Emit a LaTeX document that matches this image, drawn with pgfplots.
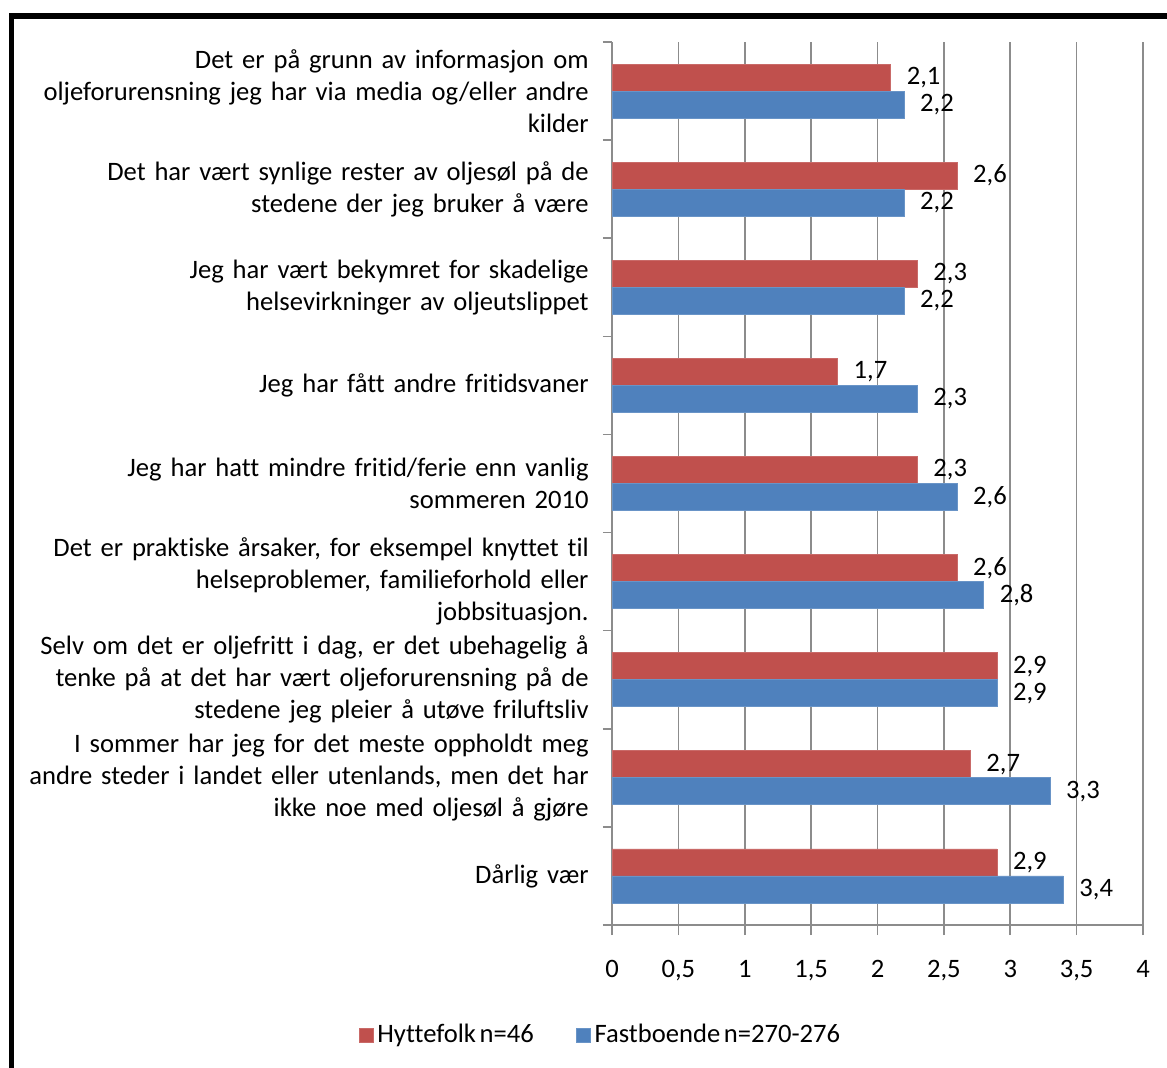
\documentclass[border=0pt]{standalone}
\usepackage{fontspec}
\setmainfont{Carlito}[WordSpace=0.6, Ligatures=NoCommon]
\usepackage{pgfplots}
\pgfplotsset{compat=1.18}
\definecolor{cred}{HTML}{C0504D}
\definecolor{cblue}{HTML}{4F81BD}
\definecolor{gridg}{RGB}{140,140,140}
\begin{document}
\begin{tikzpicture}
\draw[line width=2.6pt] (5.6pt,-20pt) -- (5.6pt,525.5pt) -- (620pt,525.5pt);
\begin{axis}[
  at={(306pt,71pt)}, anchor=south west,
  scale only axis, width=265.5pt, height=441.5pt,
  xbar, bar width=13.5pt,
  xmin=0, xmax=4, ymin=-0.5, ymax=8.5,
  axis x line=bottom, axis y line=left,
  axis line style={gridg, line width=0.8pt, -},
  xtick={0,0.5,...,4},
  ytick={0,...,8},
  minor ytick={-0.5,0.5,...,8.5},
  tick align=outside,
  major tick length=5pt, minor tick length=4.5pt,
  major y tick style={draw=none},
  every tick/.style={gridg, line width=0.8pt},
  minor y tick style={gridg, line width=0.8pt},
  xmajorgrids, major grid style={gridg, line width=0.8pt},
  /pgf/number format/use comma,
  /pgf/number format/assume math mode=true,
  font=\fontsize{13.3pt}{16pt}\selectfont,
  xticklabel style={yshift=-9pt},
  yticklabel style={align=right, text width=300pt, inner sep=0pt, xshift=-6.5pt},
  yticklabels={
    {Dårlig vær},
    {I sommer har jeg for det meste oppholdt meg\\andre steder i landet eller utenlands, men det har\\ikke noe med oljesøl å gjøre},
    {Selv om det er oljefritt i dag, er det ubehagelig å\\tenke på at det har vært oljeforurensning på de\\stedene jeg pleier å utøve friluftsliv},
    {Det er praktiske årsaker, for eksempel knyttet til\\helseproblemer, familieforhold eller\\jobbsituasjon.},
    {Jeg har hatt mindre fritid/ferie enn vanlig\\sommeren 2010},
    {Jeg har fått andre fritidsvaner},
    {Jeg har vært bekymret for skadelige\\helsevirkninger av oljeutslippet},
    {Det har vært synlige rester av oljesøl på de\\stedene der jeg bruker å være},
    {Det er på grunn av informasjon om\\oljeforurensning jeg har via media og/eller andre\\kilder}
  },
  nodes near coords,
  nodes near coords style={anchor=west, xshift=4.5pt, text=black, /pgf/number format/fixed, /pgf/number format/precision=1, /pgf/number format/use comma},
  legend style={draw=none, legend columns=2, at={(-0.02,-0.1245)}, anchor=center,
    font=\fontsize{13.3pt}{16pt}\selectfont,
    /tikz/every even column/.append style={column sep=19pt}},
  legend image code/.code={\fill[#1] (0pt,-3.5pt) rectangle (7pt,3.5pt);},
]
\addplot[fill=cred, draw=cred!85!white, bar shift=6.75pt] coordinates {
  (2.9,0) (2.7,1) (2.9,2) (2.6,3) (2.3,4) (1.7,5) (2.3,6) (2.6,7) (2.1,8)};
\addplot[fill=cblue, draw=cblue!85!white, bar shift=-6.75pt] coordinates {
  (3.4,0) (3.3,1) (2.9,2) (2.8,3) (2.6,4) (2.3,5) (2.2,6) (2.2,7) (2.2,8)};
\legend{Hyttefolk n=46, Fastboende n=270-276}
\end{axis}
\pgfresetboundingbox
\useasboundingbox (0,0) rectangle (583.5pt,533.5pt);
\end{tikzpicture}
\end{document}
